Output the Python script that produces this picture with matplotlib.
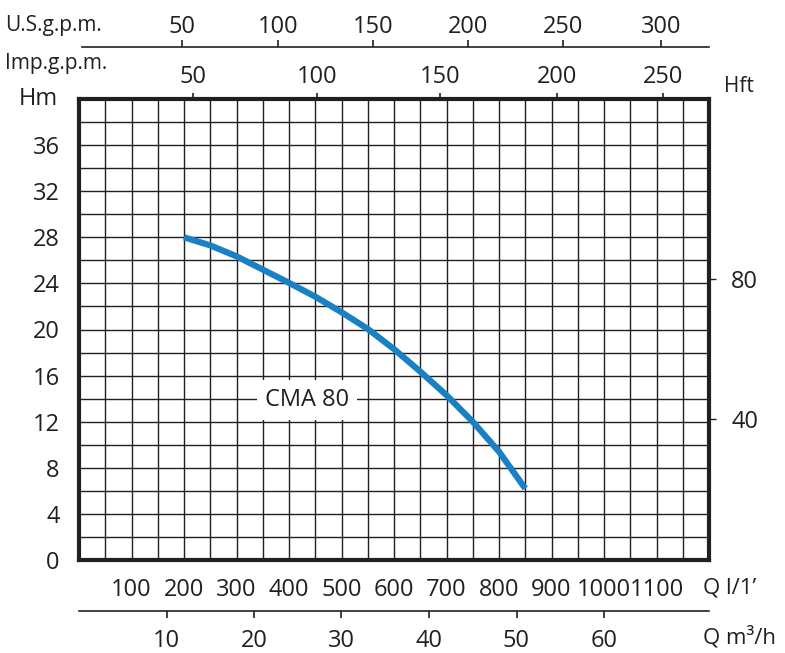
import numpy as np
import matplotlib.pyplot as plt

plt.rcParams['font.family'] = ['Open Sans', 'DejaVu Sans']

# pump curve CMA 80, flow in l/min, head in m
flow_lpm = [200, 250, 300, 350, 400, 450, 500, 550, 600, 650, 700, 750, 800, 850]
head_m = [28.0, 27.3, 26.35, 25.2, 24.05, 22.85, 21.5, 20.05, 18.3, 16.35, 14.3, 12.0, 9.4, 6.2]

lpm_ticks = [100, 200, 300, 400, 500, 600, 700, 800, 900, 1000, 1100]
m3h_ticks = [10, 20, 30, 40, 50, 60]
hm_ticks = [0, 4, 8, 12, 16, 20, 24, 28, 32, 36]
hft_ticks = [40, 80]

# top scales as printed on the sheet (positions read in l/min)
us_gpm_labels = [50, 100, 150, 200, 250, 300]
us_gpm_pos = [196, 379, 560, 741, 922, 1109]
imp_gpm_labels = [50, 100, 150, 200, 250]
imp_gpm_pos = [217, 453, 688, 910, 1112]

xmax = 1200
ymax = 40
ink = '#231f20'
blue = '#1a80c4'
fs = 17

fig = plt.figure(figsize=(7.85, 6.53), dpi=100)
ax = fig.add_axes([79/785, 1 - 560/653, 630/785, 461/653])

ax.set_xlim(0, xmax)
ax.set_ylim(0, ymax)
ax.set_xticks(np.arange(0, xmax + 1, 50), minor=True)
ax.set_yticks(np.arange(0, ymax + 1, 2), minor=True)
ax.grid(which='both', color=ink, linewidth=1.0)
ax.tick_params(which='minor', length=0)

ax.set_xticks(lpm_ticks)
ax.set_xticklabels([str(v) for v in lpm_ticks])
ax.set_yticks(hm_ticks)
ax.tick_params(axis='x', length=0, pad=13, labelsize=fs, colors=ink)
ax.tick_params(axis='y', length=0, pad=14, labelsize=fs, colors=ink)
for s in ax.spines.values():
    s.set_linewidth(3)
    s.set_color(ink)

ax.plot(flow_lpm, head_m, color=blue, linewidth=4.5, solid_capstyle='butt',
        solid_joinstyle='round', zorder=5)

ax.text(434, 13.9, 'CMA 80', fontsize=fs, color=ink, ha='center', va='center',
        bbox=dict(facecolor='white', edgecolor='none', pad=6), zorder=6)

# m3/h scale under the chart
ax_m3 = ax.twiny()
ax_m3.set_xlim(0, xmax)
ax_m3.xaxis.set_ticks_position('bottom')
ax_m3.xaxis.set_label_position('bottom')
for k, s in ax_m3.spines.items():
    s.set_visible(k == 'bottom')
ax_m3.spines['bottom'].set_position(('outward', 36.5))
ax_m3.spines['bottom'].set_linewidth(1.2)
ax_m3.spines['bottom'].set_color(ink)
ax_m3.set_xticks([v * 1000 / 60 for v in m3h_ticks])
ax_m3.set_xticklabels([str(v) for v in m3h_ticks])
ax_m3.tick_params(axis='x', direction='out', length=5, width=1.2, pad=8, labelsize=fs, colors=ink)

# imperial gpm on the frame top
ax_imp = ax.twiny()
ax_imp.set_xlim(0, xmax)
for s in ax_imp.spines.values():
    s.set_visible(False)
ax_imp.set_xticks(imp_gpm_pos)
ax_imp.set_xticklabels([str(v) for v in imp_gpm_labels])
ax_imp.tick_params(axis='x', direction='out', length=4.5, width=1.2, pad=3, labelsize=fs, colors=ink)

# US gpm scale above
ax_us = ax.twiny()
ax_us.set_xlim(0, xmax)
for k, s in ax_us.spines.items():
    s.set_visible(k == 'top')
ax_us.spines['top'].set_position(('outward', 37.5))
ax_us.spines['top'].set_bounds(6, xmax)
ax_us.spines['top'].set_linewidth(1.2)
ax_us.spines['top'].set_color(ink)
ax_us.set_xticks(us_gpm_pos)
ax_us.set_xticklabels([str(v) for v in us_gpm_labels])
ax_us.tick_params(axis='x', direction='out', length=5, width=1.2, pad=1, labelsize=fs, colors=ink)

# head in feet on the right
ax_ft = ax.twinx()
ax_ft.set_ylim(0, ymax / 0.3048)
for s in ax_ft.spines.values():
    s.set_visible(False)
ax_ft.set_yticks(hft_ticks)
ax_ft.tick_params(axis='y', direction='out', length=5, width=1.0, pad=11, labelsize=fs, colors=ink)

W, H = 785, 653
fig.text(5 / W, 1 - 25 / H, 'U.S.g.p.m.', fontsize=15, color=ink, ha='left', va='center')
fig.text(5 / W, 1 - 64 / H, 'Imp.g.p.m.', fontsize=15, color=ink, ha='left', va='center')
fig.text(38 / W, 1 - 99 / H, 'Hm', fontsize=fs, color=ink, ha='center', va='center')
fig.text(739 / W, 1 - 86 / H, 'Hft', fontsize=15, color=ink, ha='center', va='center')
fig.text(703 / W, 1 - 588 / H, 'Q l/1\u2019', fontsize=16, color=ink, ha='left', va='center')
fig.text(703 / W, 1 - 637 / H, 'Q m\u00b3/h', fontsize=16, color=ink, ha='left', va='center')

fig.savefig('out.png', dpi=100)
